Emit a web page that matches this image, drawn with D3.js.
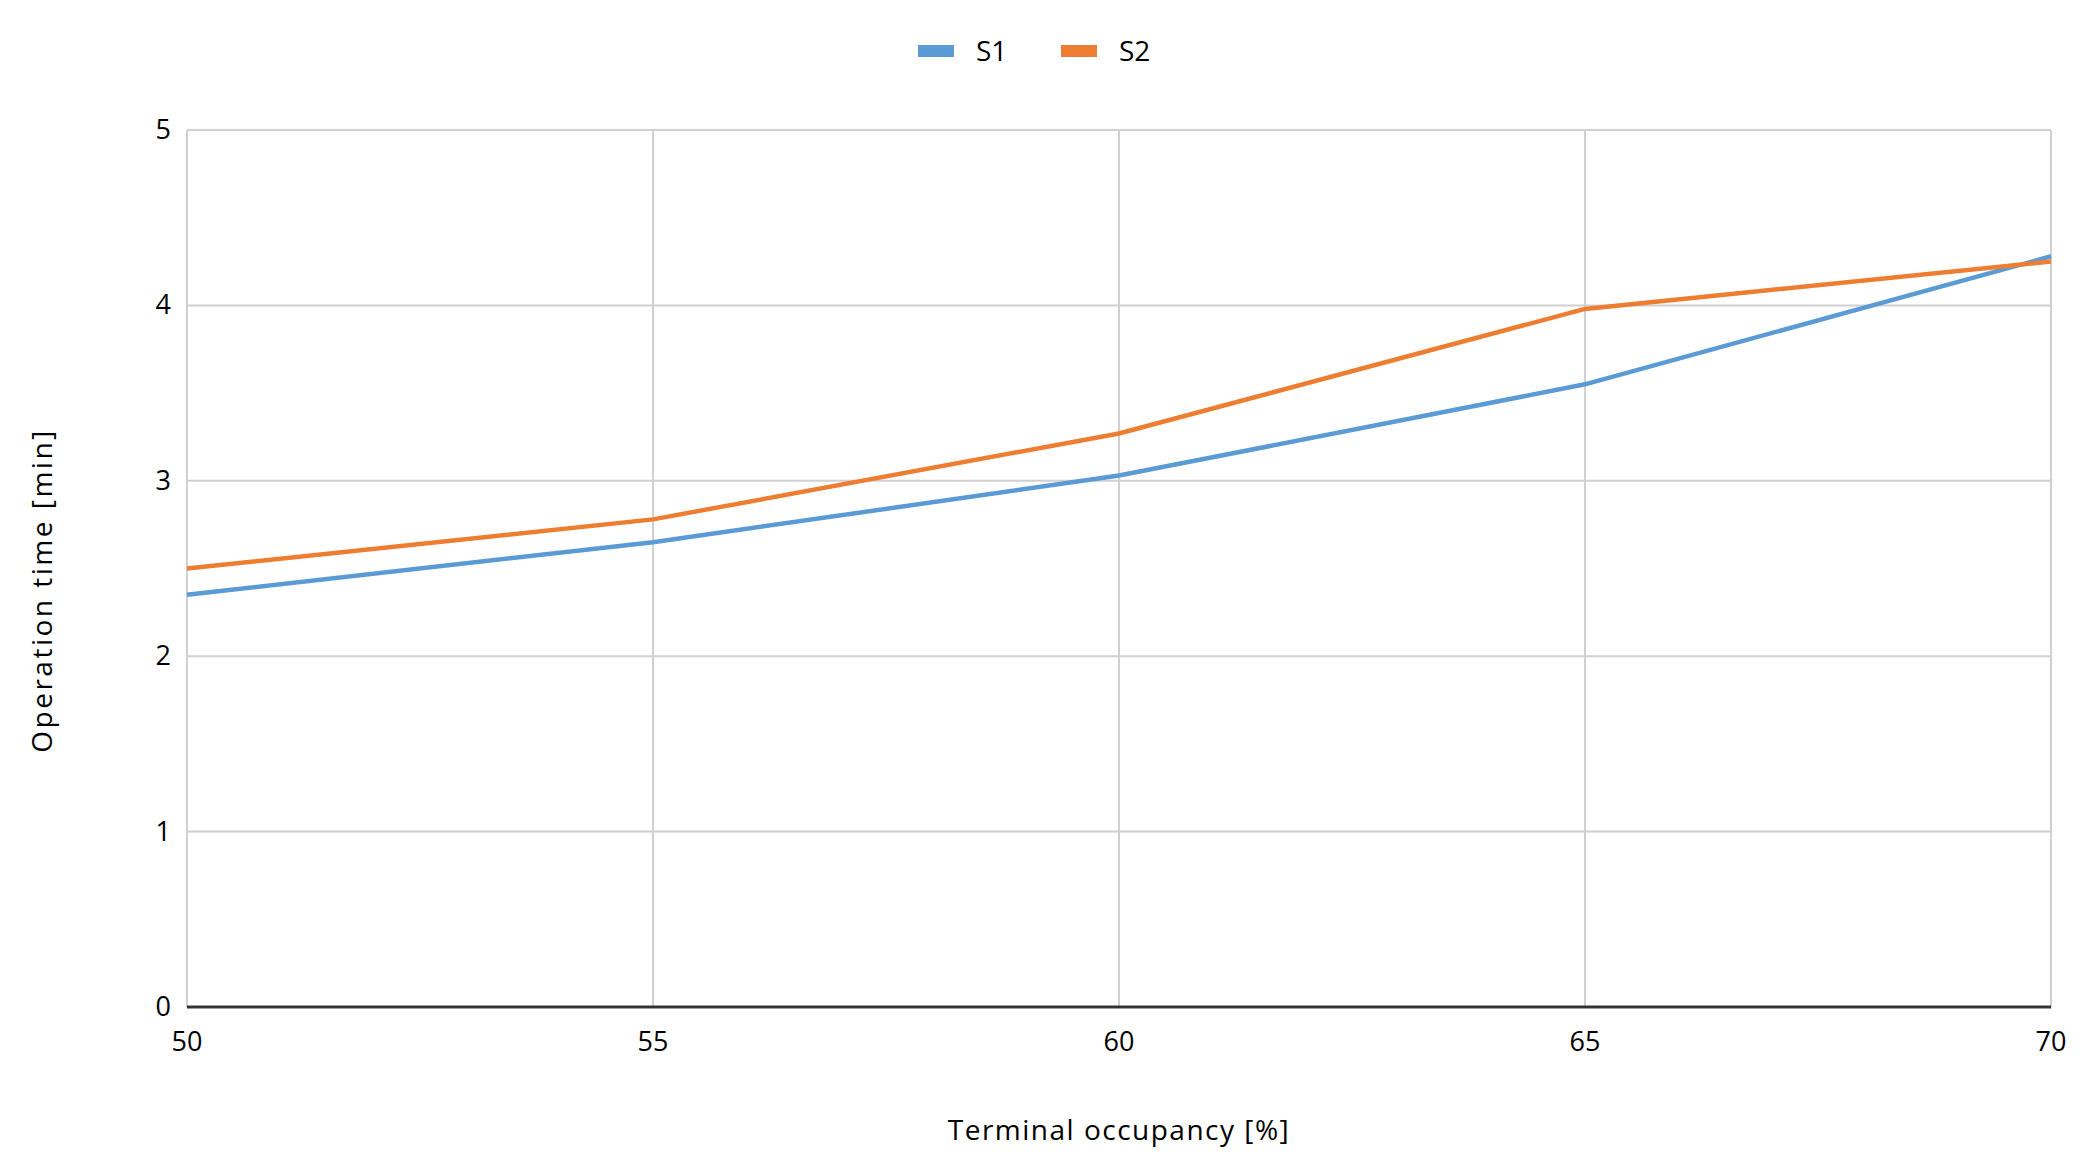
<!DOCTYPE html>
<html>
<head>
<meta charset="utf-8">
<script src="https://cdn.jsdelivr.net/npm/d3@7"></script>
<style>
  body { margin: 0; background: #fff; }
  text { font-family: "Open Sans", "DejaVu Sans", sans-serif; fill: #000; }
</style>
</head>
<body>
<svg id="chart" width="2084" height="1174"></svg>
<script>
var occupancy = [50, 55, 60, 65, 70];
var s1Values = [2.35, 2.65, 3.03, 3.55, 4.28];
var s2Values = [2.50, 2.78, 3.27, 3.98, 4.25];
var yTicks = [0, 1, 2, 3, 4, 5];
var seriesNames = ["S1", "S2"];
var seriesColors = ["#5b9bd5", "#ed7d31"];

var svg = d3.select("#chart"),
    plotLeft = 187, plotRight = 2051, plotTop = 130, plotBottom = 1007;

var x = d3.scaleLinear().domain([50, 70]).range([plotLeft, plotRight]);
var y = d3.scaleLinear().domain([0, 5]).range([plotBottom, plotTop]);

// grid
svg.append("g").selectAll("line").data(yTicks).enter().append("line")
   .attr("x1", plotLeft).attr("x2", plotRight)
   .attr("y1", function(d) { return y(d); }).attr("y2", function(d) { return y(d); })
   .style("stroke", "#d0d0d0").style("stroke-width", 2);
svg.append("g").selectAll("line").data(occupancy).enter().append("line")
   .attr("y1", plotTop).attr("y2", plotBottom)
   .attr("x1", function(d) { return x(d); }).attr("x2", function(d) { return x(d); })
   .style("stroke", "#d0d0d0").style("stroke-width", 2);

// x axis line
svg.append("line").attr("x1", plotLeft).attr("x2", plotRight).attr("y1", plotBottom).attr("y2", plotBottom)
   .style("stroke", "#333").style("stroke-width", 3);

// tick labels
svg.append("g").selectAll("text").data(yTicks).enter().append("text")
   .attr("x", plotLeft - 16).attr("y", function(d) { return y(d) + 9; })
   .attr("text-anchor", "end").style("font-size", "27px")
   .text(function(d) { return d; });
svg.append("g").selectAll("text").data(occupancy).enter().append("text")
   .attr("x", function(d) { return x(d); }).attr("y", plotBottom + 44)
   .attr("text-anchor", "middle").style("font-size", "27px")
   .text(function(d) { return d; });

// axis titles
svg.append("text").attr("x", (plotLeft + plotRight) / 2).attr("y", 1140)
   .attr("text-anchor", "middle").style("font-size", "28px").style("letter-spacing", "1.5px")
   .text("Terminal occupancy [%]");
svg.append("text").attr("transform", "translate(52," + ((plotTop + plotBottom) / 2 + 22) + ") rotate(-90)")
   .attr("text-anchor", "middle").style("font-size", "28px").style("letter-spacing", "2.5px")
   .text("Operation time [min]");

// lines
var line = d3.line().x(function(d, i) { return x(occupancy[i]); }).y(function(d) { return y(d); });
[s1Values, s2Values].forEach(function(vals, i) {
    svg.append("path").datum(vals).attr("d", line)
       .style("fill", "none").style("stroke", seriesColors[i]).style("stroke-width", 4.5);
});

// legend
var legend = svg.append("g").selectAll("g").data(seriesNames).enter().append("g")
   .attr("transform", function(d, i) { return "translate(" + (918 + i * 143) + ",51)"; });
legend.append("rect").attr("x", 0).attr("y", -6).attr("width", 36).attr("height", 12)
   .style("fill", function(d, i) { return seriesColors[i]; });
legend.append("text").attr("x", 58).attr("y", 10).style("font-size", "28px")
   .text(function(d) { return d; });
</script>
</body>
</html>
